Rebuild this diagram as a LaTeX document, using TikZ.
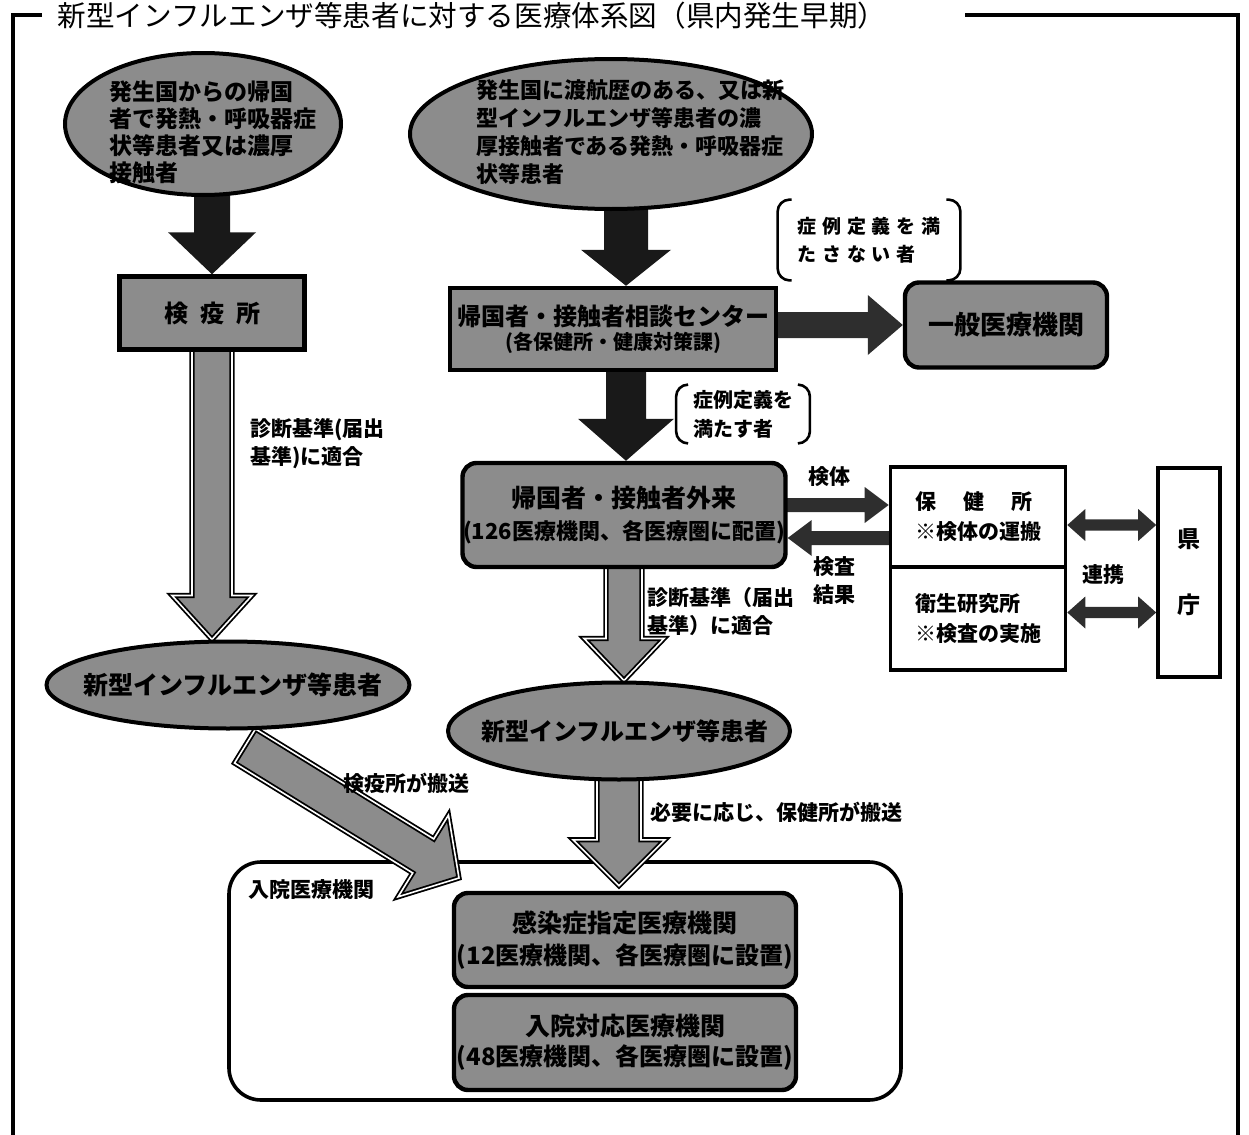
\documentclass[tikz,border=0pt]{standalone}
\usepackage{fontspec}
\setmainfont{Noto Sans CJK JP}
\usetikzlibrary{calc,shapes.geometric,backgrounds}
\newcommand\fsz[2]{\fontsize{#1}{#2}\selectfont}
% fat single arrow: #1 style, #2 from, #3 to, #4 half shaft, #5 half head, #6 head length
\newcommand\fatarrow[6]{%
  \coordinate (fanck) at ($#3!#6!#2$);
  \path[#1] ($#2!#4!90:#3$) -- ($(fanck)!#4!-90:#2$) -- ($(fanck)!#5!-90:#2$) -- #3
    -- ($(fanck)!#5!90:#2$) -- ($(fanck)!#4!90:#2$) -- ($#2!#4!-90:#3$) -- cycle;}
% fat double arrow
\newcommand\dblarrow[6]{%
  \coordinate (dana) at ($#2!#6!#3$);
  \coordinate (danb) at ($#3!#6!#2$);
  \path[#1] #2 -- ($(dana)!#5!90:#3$) -- ($(dana)!#4!90:#3$) -- ($(danb)!#4!-90:#2$)
    -- ($(danb)!#5!-90:#2$) -- #3 -- ($(danb)!#5!90:#2$) -- ($(danb)!#4!90:#2$)
    -- ($(dana)!#4!-90:#3$) -- ($(dana)!#5!-90:#3$) -- cycle;}
\tikzset{
  frame/.style={line width=1.6pt},
  blk/.style={fill=black!90},
  dkarr/.style={fill=black!82},
  gar/.style={fill=black!45, draw=black, line width=0.9pt, double=white, double distance=0.8pt},
  ell/.style={ellipse, draw=black, line width=2pt, fill=black!45, inner sep=0pt},
  gbox/.style={rectangle, draw=black, line width=2.2pt, fill=black!45, inner sep=0pt, align=center},
  rgbox/.style={gbox, rounded corners=7pt},
  wbox/.style={rectangle, draw=black, line width=1.8pt, fill=white, inner sep=0pt, align=left},
  ntxt/.style={inner sep=0pt, align=left, font=\bfseries},
  lab/.style={inner sep=0pt, align=left, font=\bfseries\fsz{10.5pt}{14pt}},
  brk/.style={draw=black, line width=1.3pt, rounded corners=6pt},
  bigbox/.style={rectangle, draw=black, line width=1.8pt, rounded corners=16pt, inner sep=0pt},
}
\begin{document}
\begin{tikzpicture}[x=0.5pt,y=-0.5pt]
\useasboundingbox (0,0) rectangle (1249,1135);
% frame
\draw[frame] (42,15) -- (13,15) -- (13,1140);
\draw[frame] (965,15) -- (1238,15) -- (1238,1140);
\node[inner sep=0pt, font=\fsz{14.3pt}{16pt}] (ttl) at (472,16) {新型インフルエンザ等患者に対する医療体系図（県内発生早期）};

% top ellipses
\node[ell, minimum width=138pt, minimum height=71pt] (e1) at (203,124) {};
\node[ntxt, font=\bfseries\fsz{11.5pt}{13.5pt}] (e1t) at (213,132) {発生国からの帰国\\者で発熱・呼吸器症\\状等患者又は濃厚\\接触者};
\node[ell, minimum width=201pt, minimum height=75pt] (e2) at (611,134) {};
\node[ntxt, font=\bfseries\fsz{11pt}{14pt}] (e2t) at (630,132) {発生国に渡航歴のある、又は新\\型インフルエンザ等患者の濃\\厚接触者である発熱・呼吸器症\\状等患者};

% boxes
\node[gbox, minimum width=92.5pt, minimum height=36.5pt, font=\bfseries\fsz{12pt}{14pt}] (k1) at (212,313) {検\hspace{0.5em}疫\hspace{0.5em}所};
\node[gbox, minimum width=163pt, minimum height=41pt, font=\bfseries\fsz{12pt}{14pt}] (c1) at (613,329) {帰国者・接触者相談センター\\[-2pt]{\fsz{10pt}{12pt}(各保健所・健康対策課)}};
\node[rgbox, minimum width=101pt, minimum height=42.5pt, font=\bfseries\fsz{13pt}{15pt}] (g1) at (1006,325) {一般医療機関};

% bracket notes
\node[inner sep=0pt, minimum width=91pt, minimum height=40pt, align=left, font=\bfseries\fsz{9.5pt}{14pt}\addfontfeature{LetterSpace=30}] (b1) at (869,240) {症例定義を満\\たさない者};
\draw[brk] ($(b1.north west)+(14,0)$) -- (b1.north west) -- (b1.south west) -- ($(b1.south west)+(14,0)$);
\draw[brk] ($(b1.north east)+(-14,0)$) -- (b1.north east) -- (b1.south east) -- ($(b1.south east)+(-14,0)$);
\node[inner sep=0pt, minimum width=66.5pt, minimum height=29pt, align=left, font=\bfseries\fsz{10pt}{14.5pt}] (b2) at (743,414) {症例定義を\\満たす者};
\draw[brk] ($(b2.north west)+(12,0)$) -- (b2.north west) -- (b2.south west) -- ($(b2.south west)+(12,0)$);
\draw[brk] ($(b2.north east)+(-12,0)$) -- (b2.north east) -- (b2.south east) -- ($(b2.south east)+(-12,0)$);

\node[rgbox, minimum width=161.5pt, minimum height=52pt, font=\bfseries\fsz{12.5pt}{16pt}] (o1) at (624,515) {帰国者・接触者外来\\{\fsz{11pt}{16pt}(126医療機関、各医療圏に配置)}};

\node[wbox, minimum width=87.5pt, minimum height=50pt, font=\bfseries\fsz{10.5pt}{15pt}] (h1) at (978,517) {保\hspace{1.3em}健\hspace{1.3em}所\\※検体の運搬};
\node[wbox, minimum width=87.5pt, minimum height=51.5pt, font=\bfseries\fsz{10.5pt}{15pt}] (h2) at (978,618.5) {衛生研究所\\※検査の実施};
\node[wbox, minimum width=31pt, minimum height=104.5pt, align=center, font=\bfseries\fsz{11.5pt}{33pt}] (p1) at (1189,572.5) {県\\庁};

% patient ellipses
\node[ell, minimum width=181.5pt, minimum height=43.5pt] (e3) at (228,685) {};
\node[ntxt, font=\bfseries\fsz{12.5pt}{14pt}] (e3t) at (233,685) {新型インフルエンザ等患者};
\node[ell, minimum width=171pt, minimum height=48.5pt] (e4) at (619,731) {};
\node[ntxt, font=\bfseries\fsz{12pt}{14pt}] (e4t) at (625,731) {新型インフルエンザ等患者};

% hospital boxes
\node[rgbox, minimum width=171pt, minimum height=47pt, font=\bfseries\fsz{12.5pt}{16pt}] (i1) at (625,940) {感染症指定医療機関\\{\fsz{12pt}{16pt}(12医療機関、各医療圏に設置)}};
\node[rgbox, minimum width=171pt, minimum height=47.5pt, font=\bfseries\fsz{12.5pt}{15pt}] (i2) at (625,1042.5) {入院対応医療機関\\{\fsz{12pt}{15pt}(48医療機関、各医療圏に設置)}};

% labels
\node[lab, anchor=west] (l1) at (250,443.5) {診断基準(届出\\基準)に適合};
\node[lab, anchor=west] (l2) at (647,612) {診断基準（届出\\基準）に適合};
\node[lab] (l3) at (829,477) {検体};
\node[lab, align=center] (l4) at (834,581) {検査\\結果};
\node[lab] (l5) at (1103,575) {連携};
\node[lab, anchor=west] (l6) at (343,783) {検疫所が搬送};
\node[lab, anchor=west] (l7) at (650,812) {必要に応じ、保健所が搬送};
\node[lab, anchor=west] (l8) at (248,890) {入院医療機関};

\begin{pgfonlayer}{background}
\node[bigbox, minimum width=336pt, minimum height=119pt] (bb) at (565,981) {};
\coordinate (a1s) at (k1.north |- e1.center);
\fatarrow{blk}{(a1s)}{(k1.north)}{9pt}{22pt}{21pt}
\coordinate (a2e) at (k1.center |- e3.north);
\fatarrow{gar}{(k1.center)}{(a2e)}{10pt}{20pt}{22pt}
\coordinate (a3s) at ($(c1.north |- e2.center)+(13,0)$);
\coordinate (a3e) at ($(c1.north)+(13,0)$);
\fatarrow{blk}{(a3s)}{(a3e)}{11pt}{22.5pt}{18pt}
\coordinate (a4s) at (c1.center |- g1.west);
\fatarrow{dkarr}{(a4s)}{(g1.west)}{6.5pt}{15pt}{17.5pt}
\coordinate (a5s) at ($(c1.center)+(13,0)$);
\coordinate (a5e) at ($(o1.north)+(2,0)$);
\fatarrow{blk}{(a5s)}{(a5e)}{10pt}{24pt}{21pt}
\coordinate (a6s) at ($(o1.center)+(0,-10)$);
\coordinate (a6e) at (h1.west |- a6s);
\fatarrow{dkarr}{(a6s)}{(a6e)}{3.5pt}{9pt}{12pt}
\coordinate (a7s) at ($(h1.center)+(0,21)$);
\coordinate (a7e) at (o1.east |- a7s);
\fatarrow{dkarr}{(a7s)}{(a7e)}{3.5pt}{9pt}{12pt}
\coordinate (a8s) at ($(h1.east)+(0,8)$);
\coordinate (a8e) at (p1.west |- a8s);
\dblarrow{dkarr}{(a8s)}{(a8e)}{2.8pt}{8pt}{9pt}
\coordinate (a9s) at ($(h2.east)+(0,-6)$);
\coordinate (a9e) at (p1.west |- a9s);
\dblarrow{dkarr}{(a9s)}{(a9e)}{2.8pt}{8pt}{9pt}
\coordinate (a10s) at (245,746);
\coordinate (a10e) at (459,878);
\fatarrow{gar}{(a10s)}{(a10e)}{10pt}{24pt}{21pt}
\coordinate (a11e) at ($(e4.center |- i1.north)+(0,-5)$);
\fatarrow{gar}{(e4.center)}{(a11e)}{11pt}{23pt}{23pt}
\coordinate (a12e) at (o1.center |- e4.north);
\fatarrow{gar}{(o1.center)}{(a12e)}{9pt}{20pt}{21pt}
\end{pgfonlayer}
\end{tikzpicture}
\end{document}
